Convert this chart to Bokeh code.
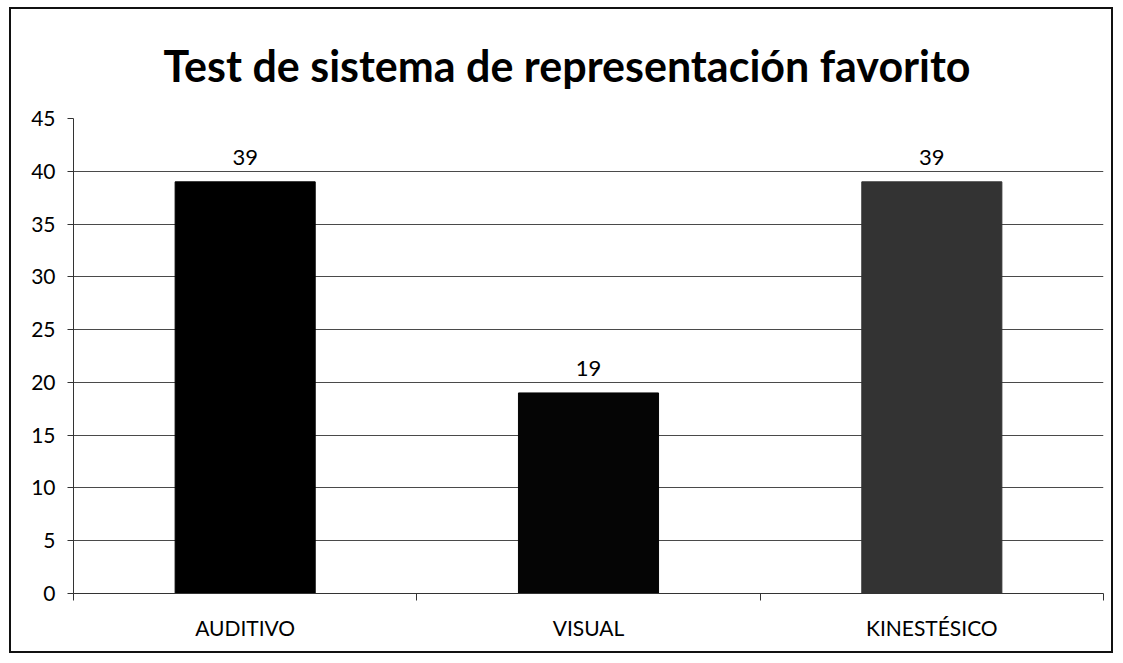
from bokeh.plotting import figure
from bokeh.models import ColumnDataSource, FixedTicker, LabelSet, Title, Range1d
from bokeh.core.properties import value
from bokeh.embed import file_html
from bokeh.resources import INLINE

categories = ["AUDITIVO", "VISUAL", "KINESTÉSICO"]
values = [39, 19, 39]
colors = ["#000000", "#050505", "#333333"]
y_ticks = [0, 5, 10, 15, 20, 25, 30, 35, 40, 45]

xs = [i + 0.5 for i in range(len(categories))]
src = ColumnDataSource(dict(x=xs, top=values, color=colors,
                            label=[str(v) for v in values]))

p = figure(width=1104, height=646, output_backend="svg", toolbar_location=None,
           x_range=Range1d(0, len(categories)), y_range=Range1d(0, 45),
           min_border_left=62, min_border_right=12, min_border_top=108, min_border_bottom=62,
           styles={"border": "2px solid #111", "margin-left": "9px", "margin-top": "7px"})
p.title = None
t = Title(text="Test de sistema de representación favorito", align="left",
          offset=90, text_font="Lato", text_font_size="43px", text_font_style="bold",
          text_color="#000000", standoff=56)
p.add_layout(t, "above")

p.vbar(x="x", top="top", width=0.408, color="color", source=src)

labels = LabelSet(x="x", y="top", text="label", source=src, text_align="center",
                  text_baseline="alphabetic", y_offset=17, text_font=value("Lato"),
                  text_font_size="22px", text_color="#000000")
p.add_layout(labels)

p.outline_line_color = None
p.xgrid.grid_line_color = None
p.ygrid.grid_line_color = "#4a4a4a"
p.ygrid.grid_line_width = 1
p.yaxis.ticker = FixedTicker(ticks=y_ticks)
p.yaxis.major_label_text_font = "Lato"
p.yaxis.major_label_text_font_size = "21px"
p.yaxis.major_label_text_color = "#000000"
p.yaxis.major_tick_out = 6
p.yaxis.major_tick_in = 0
p.yaxis.minor_tick_line_color = None
p.yaxis.axis_line_color = "#333333"
p.yaxis.major_tick_line_color = "#333333"
p.yaxis.major_label_standoff = 12

p.xaxis.ticker = FixedTicker(ticks=xs, minor_ticks=list(range(len(categories) + 1)))
p.xaxis.major_label_overrides = {x: c for x, c in zip(xs, categories)}
p.xaxis.major_tick_line_color = None
p.xaxis.minor_tick_out = 7
p.xaxis.minor_tick_in = 0
p.xaxis.minor_tick_line_color = "#333333"
p.xaxis.axis_line_color = "#333333"
p.xaxis.major_label_text_font = "Lato"
p.xaxis.major_label_text_font_size = "21px"
p.xaxis.major_label_text_color = "#000000"
p.xaxis.major_label_standoff = 14

open("out.html", "w").write(file_html(p, INLINE))
